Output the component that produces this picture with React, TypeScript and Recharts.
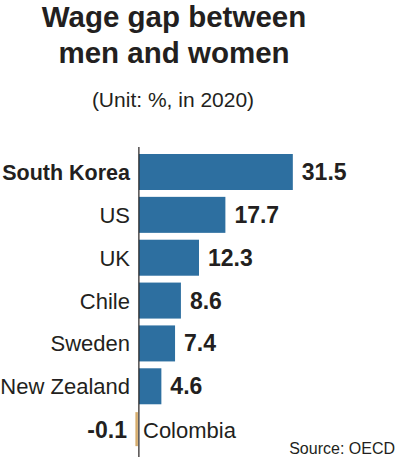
import { BarChart, Bar, XAxis, YAxis, Cell, LabelList, ReferenceLine } from "recharts";

// Data
const countries = ["South Korea", "US", "UK", "Chile", "Sweden", "New Zealand", "Colombia"];
const wageGap = [31.5, 17.7, 12.3, 8.6, 7.4, 4.6, -0.1];

const data = countries.map((name, i) => ({ name, value: wageGap[i] }));

const FONT = "'Liberation Sans', Arial, Helvetica, sans-serif";
const INK = "#231f20";
const BLUE = "#2d6fa0";
const TAN = "#d6ac6c";

// Category labels on the left; Colombia shows its value in front of the axis
const CountryTick = (props: any) => {
  const { x, y, payload } = props;
  const name = payload.value as string;
  if (name === "Colombia") {
    return (
      <g>
        <text x={x - 3} y={y} dy={8} textAnchor="end" fontSize={23} fontWeight="bold" fill={INK} fontFamily={FONT}>
          -0.1
        </text>
        <text x={x + 13} y={y} dy={8} textAnchor="start" fontSize={22} fill={INK} fontFamily={FONT}>
          {name}
        </text>
      </g>
    );
  }
  return (
    <text
      x={x}
      y={y}
      dy={7.5}
      textAnchor="end"
      fontSize={name === "South Korea" ? 21.5 : 22}
      fontWeight={name === "South Korea" ? "bold" : "normal"}
      fill={INK}
      fontFamily={FONT}
    >
      {name}
    </text>
  );
};

const ValueLabel = (props: any) => {
  const { x, y, width, height, value } = props;
  if (value < 0) return null;
  return (
    <text x={x + width + 9} y={y + height / 2} dy={8} fontSize={23} fontWeight="bold" fill={INK} fontFamily={FONT}>
      {value}
    </text>
  );
};

// tiny negative bar: keep it visible as a thin strip left of the axis
const GapBar = (props: any) => {
  const { x, y, width, height, fill } = props;
  const left = Math.min(x, x + width);
  const w = Math.abs(width);
  if (w < 3) {
    const zero = Math.max(x, x + width);
    return <rect x={zero - 3.5} y={y + 1} width={2.5} height={height - 2} fill={fill} />;
  }
  return <rect x={left} y={y} width={w} height={height} fill={fill} />;
};

export default function App() {
  return (
    <div style={{ position: "absolute", left: 0, top: 0, width: 397, height: 461, background: "#fff" }}>
      <BarChart
        width={397}
        height={461}
        data={data}
        layout="vertical"
        margin={{ top: 147, right: 4, bottom: 4, left: 0 }}
      >
        <XAxis type="number" hide domain={[-1, 52]} />
        <YAxis
          type="category"
          dataKey="name"
          width={134}
          axisLine={false}
          tickLine={false}
          tickSize={0}
          tickMargin={4}
          padding={{ top: 4, bottom: 6 }}
          tick={<CountryTick />}
          interval={0}
        />
        <Bar dataKey="value" barSize={36} shape={<GapBar />} isAnimationActive={false}>
          {data.map((d, i) => (
            <Cell key={i} fill={d.value < 0 ? TAN : BLUE} />
          ))}
          <LabelList dataKey="value" content={<ValueLabel />} />
        </Bar>
        <ReferenceLine x={0} stroke={INK} strokeWidth={1.2} />
      </BarChart>
      <svg
        width={397}
        height={140}
        style={{ position: "absolute", left: 0, top: 0, pointerEvents: "none" }}
      >
        <text x={174} y={26.5} textAnchor="middle" fontSize={29.5} fontWeight="bold" fill={INK} fontFamily={FONT}>
          Wage gap between
        </text>
        <text x={174} y={62.5} textAnchor="middle" fontSize={29.5} fontWeight="bold" fill={INK} fontFamily={FONT}>
          men and women
        </text>
        <text x={173} y={107} textAnchor="middle" fontSize={21} fill={INK} fontFamily={FONT}>
          (Unit: %, in 2020)
        </text>
      </svg>
      <div
        style={{
          position: "absolute",
          right: 2,
          top: 440,
          fontSize: 16,
          fontFamily: FONT,
          color: INK,
          lineHeight: "18px",
        }}
      >
        Source: OECD
      </div>
    </div>
  );
}
